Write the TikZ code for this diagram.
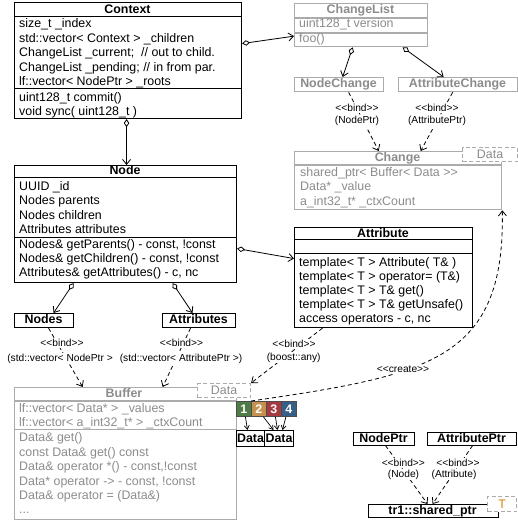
\documentclass[tikz,border=0pt]{standalone}
\usepackage{fontspec}
\setmainfont{Liberation Sans}
\usetikzlibrary{arrows.meta}

\definecolor{ghost}{HTML}{ABABAB}
\definecolor{ghosttext}{HTML}{8C8C8C}
\definecolor{cellA}{HTML}{4F7B46}
\definecolor{cellB}{HTML}{C4914F}
\definecolor{cellC}{HTML}{A73A40}
\definecolor{cellD}{HTML}{355F86}
\definecolor{tparam}{HTML}{C8860A}

% double angle brackets without the guillemet ligature
\newcommand\lguil{<\kern0pt<}
\newcommand\rguil{>\kern0pt>}

\tikzset{
  cls/.style={draw, line width=1.1pt, inner sep=0pt, anchor=north west, fill=white},
  gcls/.style={cls, draw=ghost, line width=1.3pt},
  tmpl/.style={draw=ghost, dashed, dash pattern=on 4pt off 2.5pt, line width=1.1pt,
    fill=white, inner sep=0pt, anchor=north west, text=ghosttext,
    font=\fontsize{12.4}{14}\selectfont},
  ln/.style={anchor=base west, inner sep=0pt, font=\fontsize{12.4}{14}\selectfont},
  gln/.style={ln, text=ghosttext},
  ttl/.style={anchor=base, inner sep=0pt, font=\fontsize{12.4}{14}\selectfont\bfseries},
  gttl/.style={ttl, text=ghosttext},
  sep/.style={line width=1pt},
  gsep/.style={line width=1.2pt, draw=ghost},
  lbl/.style={anchor=base, fill=white, inner sep=1pt, font=\fontsize{10.2}{12}\selectfont},
  bindline/.style={dash pattern=on 4pt off 3pt, line width=0.8pt,
    -{Straight Barb[length=5pt,width=8pt]}},
  agg/.style={line width=0.8pt,
    {Diamond[open,length=8pt,width=5.5pt]}-{Straight Barb[length=5pt,width=8pt]}},
  cellbox/.style={draw=black!70, line width=0.8pt, inner sep=0pt, anchor=north west,
    minimum width=15pt, minimum height=15pt, text=white,
    font=\fontsize{12.4}{14}\selectfont\bfseries},
  small arrow/.style={line width=0.7pt, -{Straight Barb[length=4pt,width=5pt]}},
}

\begin{document}
\begin{tikzpicture}[x=1pt,y=-1pt]
\useasboundingbox (0,0) rectangle (518,521);

% ---------- Context ----------
\node[cls, minimum width=227pt, minimum height=116pt] (ctx) at (14,2) {};
\draw[sep] (ctx.west |- 0,16.5) -- (ctx.east |- 0,16.5);
\draw[sep] (ctx.west |- 0,89) -- (ctx.east |- 0,89);
\node[ttl] (ctx-t) at (127.5,13.5) {Context};
\node[ln] (ctx-a1) at (19,28) {size\_t \_index};
\node[ln] (ctx-a2) at (19,42.5) {std::vector< Context > \_children};
\node[ln] (ctx-a3) at (19,57) {ChangeList \_current;~ // out to child.};
\node[ln] (ctx-a4) at (19,71.5) {ChangeList \_pending; // in from par.};
\node[ln] (ctx-a5) at (19,86) {lf::vector< NodePtr > \_roots};
\node[ln] (ctx-m1) at (19,101.5) {uint128\_t commit()};
\node[ln] (ctx-m2) at (19,115.5) {void sync( uint128\_t )};

% ---------- ChangeList family (grey) ----------
\node[gcls, minimum width=133pt, minimum height=43pt] (cl) at (294,3) {};
\draw[gsep] (cl.west |- 0,18) -- (cl.east |- 0,18);
\draw[gsep] (cl.west |- 0,33) -- (cl.east |- 0,33);
\node[gttl] (cl-t) at (360.5,13.5) {ChangeList};
\node[gln] (cl-a1) at (299,28) {uint128\_t version};
\node[gln] (cl-m1) at (299,43) {foo()};

\node[gcls, minimum width=89pt, minimum height=14pt] (nch) at (294,77) {};
\node[gttl] (nch-t) at (338.5,88) {NodeChange};
\node[gcls, minimum width=119pt, minimum height=14pt] (ach) at (398,77) {};
\node[gttl] (ach-t) at (457.5,88) {AttributeChange};

\node[gcls, minimum width=207pt, minimum height=58pt] (chg) at (294,151) {};
\draw[gsep] (chg.west |- 0,165) -- (chg.east |- 0,165);
\node[gttl] (chg-t) at (397.5,162) {Change};
\node[gln] (chg-a1) at (300,176.5) {shared\_ptr< Buffer< Data \rguil};
\node[gln] (chg-a2) at (300,191) {Data* \_value};
\node[gln] (chg-a3) at (300,205) {a\_int32\_t* \_ctxCount};
\node[tmpl, minimum width=55pt, minimum height=14pt] (chg-data) at (462,147) {Data};

% ---------- Node ----------
\node[cls, minimum width=222pt, minimum height=117pt] (node) at (14,165) {};
\draw[sep] (node.west |- 0,177.5) -- (node.east |- 0,177.5);
\draw[sep] (node.west |- 0,237) -- (node.east |- 0,237);
\node[ttl] (node-t) at (125,175) {Node};
\node[ln] (node-a1) at (19,190) {UUID \_id};
\node[ln] (node-a2) at (19,204.5) {Nodes parents};
\node[ln] (node-a3) at (19,219) {Nodes children};
\node[ln] (node-a4) at (19,233) {Attributes attributes};
\node[ln] (node-m1) at (19,248.5) {Nodes\& getParents() - const, !const};
\node[ln] (node-m2) at (19,262.5) {Nodes\& getChildren() - const, !const};
\node[ln] (node-m3) at (19,276.5) {Attributes\& getAttributes() - c, nc};

% ---------- Attribute ----------
\node[cls, minimum width=178pt, minimum height=100pt] (attr) at (294,227) {};
\draw[sep] (attr.west |- 0,239.5) -- (attr.east |- 0,239.5);
\draw[sep] (attr.west |- 0,253.5) -- (attr.east |- 0,253.5);
\node[ttl] (attr-t) at (383,237) {Attribute};
\node[ln] (attr-m1) at (299,266) {template< T > Attribute( T\& )};
\node[ln] (attr-m2) at (299,280.5) {template< T > operator= (T\&)};
\node[ln] (attr-m3) at (299,294.5) {template< T > T\& get()};
\node[ln] (attr-m4) at (299,308.5) {template< T > T\& getUnsafe()};
\node[ln] (attr-m5) at (299,322.5) {access operators - c, nc};

% ---------- Nodes / Attributes ----------
\node[cls, minimum width=59pt, minimum height=14pt] (nodes) at (14,313) {};
\node[ttl] (nodes-t) at (43.5,323.5) {Nodes};
\node[cls, minimum width=73pt, minimum height=14pt] (attrs) at (162,313) {};
\node[ttl] (attrs-t) at (198.5,323.5) {Attributes};

% ---------- Buffer (grey) ----------
\node[gcls, minimum width=222pt, minimum height=132pt] (buf) at (14,387) {};
\draw[gsep] (buf.west |- 0,401) -- (buf.east |- 0,401);
\draw[gsep] (buf.west |- 0,429.5) -- (buf.east |- 0,429.5);
\node[gttl] (buf-t) at (124,397.5) {Buffer};
\node[gln] (buf-a1) at (19,412.5) {lf::vector< Data* > \_values};
\node[gln] (buf-a2) at (19,426.5) {lf::vector< a\_int32\_t* > \_ctxCount};
\node[gln] (buf-m1) at (19,441) {Data\& get()};
\node[gln] (buf-m2) at (19,456) {const Data\& get() const};
\node[gln] (buf-m3) at (19,470.5) {Data\& operator *() - const,!const};
\node[gln] (buf-m4) at (19,485) {Data* operator -> - const, !const};
\node[gln] (buf-m5) at (19,499.5) {Data\& operator = (Data\&)};
\node[gln] (buf-m6) at (19,513.5) {...};
\node[tmpl, minimum width=53pt, minimum height=14pt] (buf-data) at (197,383) {Data};

% ---------- data cells ----------
\node[cellbox, fill=cellA] (c1) at (236,401) {1};
\node[cellbox, fill=cellB] (c2) at (251,401) {2};
\node[cellbox, fill=cellC] (c3) at (266,401) {3};
\node[cellbox, fill=cellD] (c4) at (281,401) {4};
\node[cls, line width=1pt, minimum width=28pt, minimum height=16pt,
  font=\fontsize{12.4}{14}\selectfont\bfseries] (d1) at (236,430) {Data};
\node[cls, line width=1pt, minimum width=29pt, minimum height=16pt,
  font=\fontsize{12.4}{14}\selectfont\bfseries] (d2) at (264,430) {Data};

% ---------- pointer types ----------
\node[cls, minimum width=61pt, minimum height=12.5pt] (nptr) at (353,432) {};
\node[ttl] (nptr-t) at (383.5,442) {NodePtr};
\node[cls, minimum width=89pt, minimum height=12.5pt] (aptr) at (427,432) {};
\node[ttl] (aptr-t) at (471.5,442) {AttributePtr};
\node[cls, minimum width=130pt, minimum height=13pt] (sptr) at (368,504) {};
\node[ttl] (sptr-t) at (432.5,514.5) {tr1::shared\_ptr};
\node[tmpl, minimum width=29pt, minimum height=15pt, text=tparam] (sptr-T) at (487,496) {T};

% ---------- aggregations ----------
\draw[agg] ([xshift=-1.5pt]ctx.south) -- ([xshift=1pt]node.north);
\draw[agg] ([yshift=17pt]ctx.east) -- ([yshift=-11pt]cl.west);
\draw[agg] ([xshift=-8.5pt]cl.south) -- ([xshift=3.5pt]nch.north);
\draw[agg] ([xshift=41.5pt]cl.south) -- ([xshift=-14.5pt]ach.north);
\draw[agg] ([yshift=-24.5pt]node.east) -- ([yshift=19pt]attr.west);
\draw[agg] ([xshift=-52pt]node.south) -- ([xshift=9.5pt]nodes.north);
\draw[agg] ([xshift=47pt]node.south) -- ([xshift=-6.5pt]attrs.north);

% ---------- template bindings ----------
\draw[bindline] ([xshift=9.5pt]nch.south) -- ([xshift=-19.5pt]chg.north);
\draw[bindline] ([xshift=-5.5pt]ach.south) -- ([xshift=22.5pt]chg.north);
\draw[bindline] ([xshift=4.5pt]nodes.south) -- ([xshift=-43pt]buf.north);
\draw[bindline] ([xshift=-8.5pt]attrs.south) -- ([xshift=37pt]buf.north);
\draw[bindline] ([xshift=-61pt]attr.south) -- (buf-data.north east);
\draw[bindline] ([xshift=1.5pt]nptr.south) -- ([xshift=-6pt]sptr.north);
\draw[bindline] ([xshift=0.5pt]aptr.south) -- ([xshift=-1pt]sptr.north);

% ---------- creation ----------
\draw[bindline] (c2.north west) .. controls (430,375) and (505,360) .. (chg.south east);

% ---------- cell references ----------
\draw[small arrow] ([xshift=1.5pt]c1.south) -- ([xshift=-3pt]d1.north);
\draw[small arrow] ([xshift=4.5pt]c2.south) -- ([xshift=-5.5pt]d2.north);
\draw[small arrow] ([xshift=1.5pt]c3.south) -- ([xshift=-1.5pt]d2.north);
\draw[small arrow] ([xshift=-3pt]c4.south) -- ([xshift=3.5pt]d2.north);

% ---------- labels ----------
\node[lbl] (l-nch1) at (357,111.7) {\lguil bind\rguil};
\node[lbl] (l-nch2) at (357,124) {(NodePtr)};
\node[lbl] (l-ach1) at (437,111.7) {\lguil bind\rguil};
\node[lbl] (l-ach2) at (437,124) {(AttributePtr)};
\node[lbl] (l-nodes1) at (62,346.7) {\lguil bind\rguil};
\node[lbl] (l-nodes2) at (60,361) {(std::vector< NodePtr >};
\node[lbl] (l-attrs1) at (181.5,346.7) {\lguil bind\rguil};
\node[lbl] (l-attrs2) at (181,361) {(std::vector< AttributePtr >)};
\node[lbl] (l-any1) at (294,347.7) {\lguil bind\rguil};
\node[lbl] (l-any2) at (293.7,360) {(boost::any)};
\node[lbl] (l-create) at (403,372.7) {\lguil create\rguil};
\node[lbl] (l-nptr1) at (403.3,466) {\lguil bind\rguil};
\node[lbl] (l-nptr2) at (403.5,477.3) {(Node)};
\node[lbl] (l-aptr1) at (458,466) {\lguil bind\rguil};
\node[lbl] (l-aptr2) at (454,477.3) {(Attribute)};
\end{tikzpicture}
\end{document}
